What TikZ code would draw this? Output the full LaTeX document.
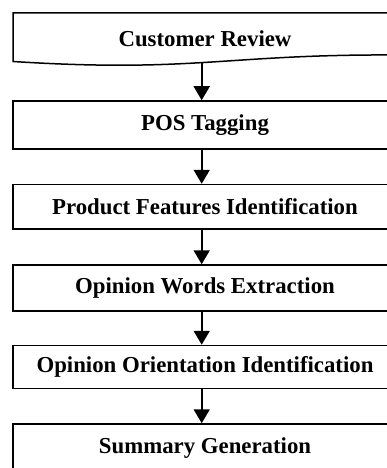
\documentclass[tikz,border=0pt]{standalone}
\usepackage{fontspec}
\setmainfont{Liberation Serif}
\usetikzlibrary{arrows.meta}
\begin{document}
\begin{tikzpicture}[x=1pt,y=-1pt,
  box/.style={draw=black,line width=1.5pt,rectangle,minimum width=384pt,inner sep=0pt,
    font=\bfseries\fontsize{22.8}{27}\selectfont},
  label/.style={inner sep=0pt,font=\bfseries\fontsize{22.8}{27}\selectfont},
  arr/.style={line width=1.8pt,-{Triangle[width=16pt,length=14pt]}}]
\useasboundingbox (0,0) rectangle (386,468);
\fill[white] (0,0) rectangle (386,468);
% document shape
\draw[line width=1.5pt,line join=miter] (13,13) -- (397,13) -- (397,55)
  .. controls (225,54) and (195,73) .. (13,61.5) -- cycle;
\node[label] (cr) at (205,38.5) {Customer Review};
\coordinate (crb) at (201.7,63.2);
\node[box,minimum height=48pt] (pos) at (205,125) {POS Tagging};
\node[box,minimum height=44.5pt] (pfi) at (205,206.8) {Product Features Identification};
\node[box,minimum height=46pt] (owe) at (205,288) {Opinion Words Extraction};
\node[box,minimum height=43pt] (ooi) at (205,367) {Opinion Orientation Identification};
\node[box,minimum height=48pt] (sg) at (205,448) {Summary Generation};
\coordinate (ax) at (201.7,0);
\draw[arr] (crb) -- (pos.north -| ax);
\draw[arr] (pos.south -| ax) -- (pfi.north -| ax);
\draw[arr] (pfi.south -| ax) -- (owe.north -| ax);
\draw[arr] (owe.south -| ax) -- (ooi.north -| ax);
\draw[arr] (ooi.south -| ax) -- (sg.north -| ax);
\end{tikzpicture}
\end{document}
